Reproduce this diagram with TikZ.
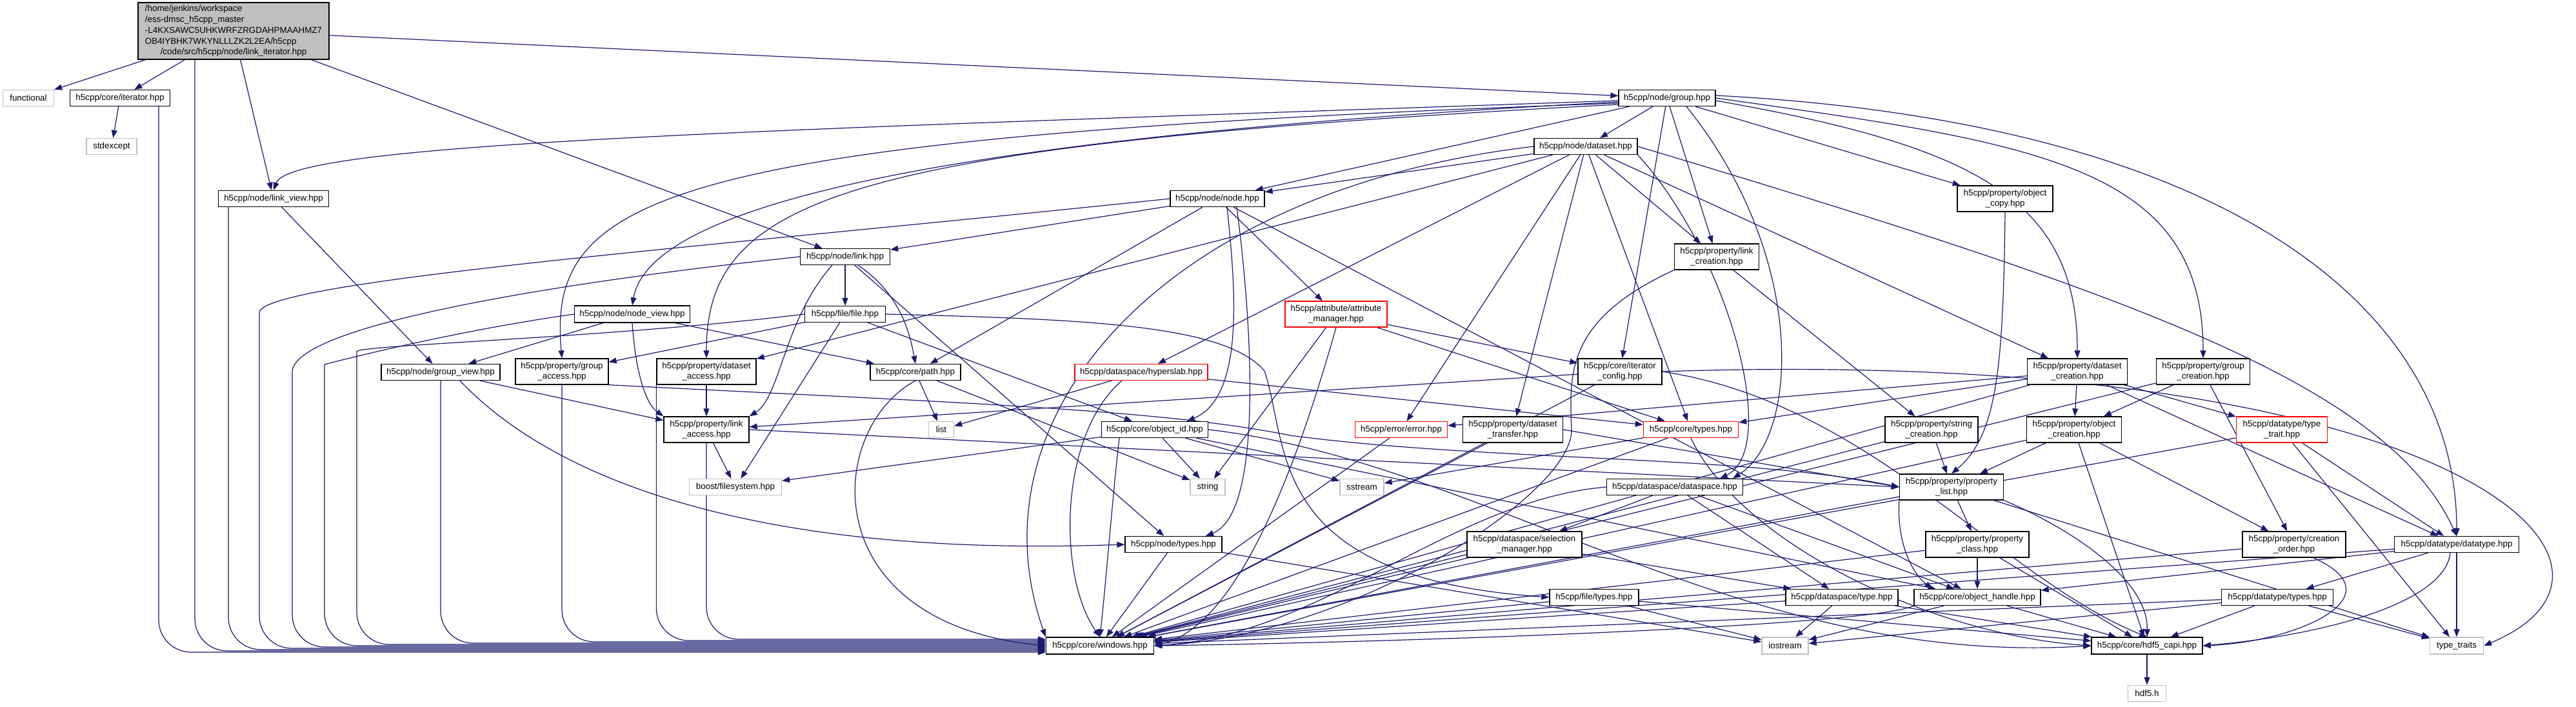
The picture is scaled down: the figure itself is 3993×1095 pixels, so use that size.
\documentclass[tikz,border=0pt]{standalone}
\usepackage{fontspec}
\setmainfont{Liberation Sans}
\usetikzlibrary{arrows.meta}
\pgfdeclarelayer{edgelayer}
\pgfsetlayers{edgelayer,main}
\definecolor{edgec}{HTML}{191970}
\definecolor{grayb}{HTML}{BFBFBF}
\newcommand\dxf{\fontsize{13.4}{16.8}\selectfont}
\newcommand\ee[2]{\draw[e] (#1) -- (#2);}
\begin{document}
\begin{tikzpicture}[x=1pt,y=1pt,
  nb/.style={draw=black, fill=white, line width=1.3pt, inner sep=2pt, align=center, font=\dxf},
  gb/.style={nb, draw=grayb},
  rb/.style={nb, draw=red},
  sz/.style 2 args={minimum width=#1pt, minimum height=#2pt},
  e/.style={draw=edgec, line width=1.2pt, -{Triangle[length=12pt,width=9pt]}}]
\useasboundingbox (0,0) rectangle (3993,1095);
% nodes
\node[nb,fill=grayb,sz={296}{84}] (main) at (362,1047) {\begin{tabular}{@{}l@{}}/home/jenkins/workspace\\/ess-dmsc\_h5cpp\_master\\-L4KXSAWC5UHKWRFZRGDAHPMAAHMZ7\\OB4IYBHK7WKYNLLLZK2L2EA/h5cpp\\\multicolumn{1}{@{}c@{}}{/code/src/h5cpp/node/link\_iterator.hpp}\end{tabular}};
\node[gb,sz={79}{25}] (functional) at (44,943) {functional};
\node[nb,sz={155}{25}] (iter) at (186,943) {h5cpp/core/iterator.hpp};
\node[gb,sz={78}{25}] (stdexcept) at (173,868) {stdexcept};
\node[nb,sz={171}{25}] (linkview) at (424,787) {h5cpp/node/link\_view.hpp};
\node[nb,sz={146}{25}] (node) at (1887,787) {h5cpp/node/node.hpp};
\node[nb,sz={150}{25}] (group) at (2584,943) {h5cpp/node/group.hpp};
\node[nb,sz={160}{25}] (dataset) at (2458,868) {h5cpp/node/dataset.hpp};
\node[nb,sz={148}{40}] (objcopy) at (3108,787) {h5cpp/property/object\\\_copy.hpp};
\node[nb,sz={179}{26}] (nodeview) at (980,608) {h5cpp/node/node\_view.hpp};
\node[nb,sz={184}{25}] (groupview) at (683,518) {h5cpp/node/group\_view.hpp};
\node[nb,sz={144}{40}] (groupaccess) at (871,519) {h5cpp/property/group\\\_access.hpp};
\node[nb,sz={139}{25}] (link) at (1310,697) {h5cpp/node/link.hpp};
\node[nb,sz={125}{25}] (file) at (1310,608) {h5cpp/file/file.hpp};
\node[nb,sz={154}{40}] (datasetaccess) at (1095,519) {h5cpp/property/dataset\\\_access.hpp};
\node[nb,sz={140}{25}] (path) at (1419,518) {h5cpp/core/path.hpp};
\node[rb,sz={206}{25}] (hyperslab) at (1769,518) {h5cpp/dataspace/hyperslab.hpp};
\node[nb,sz={132}{40}] (linkaccess) at (1095,429) {h5cpp/property/link\\\_access.hpp};
\node[gb,sz={39}{25}] (list) at (1459,429) {list};
\node[nb,sz={165}{25}] (objid) at (1790,429) {h5cpp/core/object\_id.hpp};
\node[nb,sz={131}{40}] (linkcreation) at (2661,697) {h5cpp/property/link\\\_creation.hpp};
\node[rb,sz={158}{40}] (attrmgr) at (2071,608) {h5cpp/attribute/attribute\\\_manager.hpp};
\node[nb,sz={130}{40}] (iterconfig) at (2511,519) {h5cpp/core/iterator\\\_config.hpp};
\node[rb,sz={143}{25}] (error) at (2172,429) {h5cpp/error/error.hpp};
\node[nb,sz={155}{40}] (dtransfer) at (2345,429) {h5cpp/property/dataset\\\_transfer.hpp};
\node[rb,sz={147}{25}] (types) at (2621,429) {h5cpp/core/types.hpp};
\node[nb,sz={144}{40}] (stringcreation) at (2994,429) {h5cpp/property/string\\\_creation.hpp};
\node[nb,sz={155}{40}] (dcreation) at (3220,519) {h5cpp/property/dataset\\\_creation.hpp};
\node[nb,sz={145}{40}] (gcreation) at (3415,519) {h5cpp/property/group\\\_creation.hpp};
\node[nb,sz={147}{40}] (ocreation) at (3215,429) {h5cpp/property/object\\\_creation.hpp};
\node[rb,sz={141}{40}] (typetrait) at (3537,429) {h5cpp/datatype/type\\\_trait.hpp};
\node[gb,sz={143}{25}] (filesystem) at (1140,340) {boost/filesystem.hpp};
\node[gb,sz={54}{25}] (string) at (1872,340) {string};
\node[nb,sz={150}{25}] (nodetypes) at (1819,251) {h5cpp/node/types.hpp};
\node[nb,sz={167}{26}] (windows) at (1705,94) {h5cpp/core/windows.hpp};
\node[gb,sz={68}{25}] (sstream) at (2111,340) {sstream};
\node[nb,sz={211}{25}] (dataspace) at (2596,340) {h5cpp/dataspace/dataspace.hpp};
\node[nb,sz={178}{40}] (selmgr) at (2363,251) {h5cpp/dataspace/selection\\\_manager.hpp};
\node[nb,sz={138}{25}] (filetypes) at (2471,169) {h5cpp/file/types.hpp};
\node[nb,sz={174}{25}] (dstype) at (2855,169) {h5cpp/dataspace/type.hpp};
\node[gb,sz={72}{26}] (iostream) at (2767,94) {iostream};
\node[nb,sz={161}{40}] (plist) at (3025,340) {h5cpp/property/property\\\_list.hpp};
\node[nb,sz={160}{40}] (pclass) at (3065,251) {h5cpp/property/property\\\_class.hpp};
\node[nb,sz={196}{25}] (objhandle) at (3065,169) {h5cpp/core/object\_handle.hpp};
\node[nb,sz={160}{40}] (corder) at (3556,251) {h5cpp/property/creation\\\_order.hpp};
\node[nb,sz={193}{25}] (datatype) at (3808,251) {h5cpp/datatype/datatype.hpp};
\node[nb,sz={173}{25}] (dtypes) at (3530,169) {h5cpp/datatype/types.hpp};
\node[nb,sz={172}{26}] (hdf5capi) at (3328,94) {h5cpp/core/hdf5\_capi.hpp};
\node[gb,sz={83}{26}] (typetraits) at (3808,94) {type\_traits};
\node[gb,sz={59}{25}] (hdf5h) at (3328,20) {hdf5.h};
\coordinate (lnA) at (402,560);
\coordinate (lnB) at (453,468);
\coordinate (lnC) at (503,480);
\coordinate (lnD) at (553,500);
\begin{pgfonlayer}{edgelayer}
\fill[white] (0,0) rectangle (3993,1095);
% main
\ee{main}{functional}\ee{main}{iter}\ee{main}{linkview}\ee{main}{link}\ee{main}{group}
\draw[e,rounded corners=50pt] ([xshift=-60pt]main.south) |- ([yshift=-8pt]windows.west);
\ee{iter}{stdexcept}
\draw[e,rounded corners=50pt] ([xshift=60pt]iter.south) |- ([yshift=-10pt]windows.west);
\ee{linkview}{groupview}
\draw[e,rounded corners=50pt] ([xshift=-70pt]linkview.south) |- ([yshift=-6pt]windows.west);
% group
\ee{group}{node}\ee{group}{dataset}\ee{group}{linkcreation}\ee{group}{iterconfig}\ee{group}{objcopy}
\draw[e] ([yshift=-4pt]group.west) .. controls +(182:1300) and +(70:80) .. (linkview.north);
\draw[e] ([yshift=-6pt]group.west) .. controls +(183:1100) and +(80:150) .. (nodeview.north);
\draw[e] ([yshift=-8pt]group.west) .. controls +(182:1500) and +(95:250) .. (groupaccess.north);
\draw[e] ([yshift=-10pt]group.west) .. controls +(183:1200) and +(90:250) .. (datasetaccess.north);
\draw[e] ([yshift=4pt]group.east) .. controls +(-3:800) and +(90:350) .. (datatype.north);
\draw[e] (group.east) .. controls +(-8:500) and +(90:300) .. (gcreation.north);
\draw[e] ([yshift=-4pt]group.east) .. controls +(-10:400) and +(90:250) .. (dcreation.north);
\draw[e] ([xshift=30pt]group.south) .. controls (2800,700) and (2790,420) .. ([xshift=90pt]dataspace.north);
% dataset
\ee{dataset}{node}\ee{dataset}{hyperslab}\ee{dataset}{error}\ee{dataset}{dtransfer}\ee{dataset}{types}
\ee{dataset}{linkcreation}\ee{dataset}{dcreation}\ee{dataset}{datasetaccess}
\draw[e] (dataset.south east) .. controls (2680,700) and (2760,400) .. ([xshift=70pt]dataspace.north);
\draw[e] (dataset.east) .. controls (3300,640) and (3700,500) .. (datatype.north);
\draw[e] (dataset.west) .. controls (1800,800) and (1500,450) .. (windows.north west);
% node
\ee{node}{link}\ee{node}{path}\ee{node}{attrmgr}\ee{node}{objhandle}
\draw[e] ([xshift=15pt]node.south) .. controls (1915,650) and (1930,480) .. ([xshift=50pt]objid.north);
\draw[e] ([xshift=30pt]node.south) .. controls (1940,600) and (1960,300) .. ([xshift=50pt]nodetypes.north);
\draw[e,rounded corners=50pt] (node.west) .. controls +(186:700) and +(90:100) .. (lnA) |- ([yshift=-4pt]windows.west);
% link
\ee{link}{file}\ee{link}{nodetypes}
\draw[e] ([xshift=20pt]link.south) .. controls (1395,640) and (1410,580) .. (path.north);
\draw[e] ([xshift=-20pt]link.south) .. controls (1215,600) and (1210,480) .. (linkaccess.north east);
\draw[e,rounded corners=50pt] (link.west) .. controls +(186:400) and +(90:120) .. (lnB) |- ([yshift=-2pt]windows.west);
% nodeview
\ee{nodeview}{groupview}\ee{nodeview}{path}
\draw[e] (nodeview.south) .. controls (985,520) and (1000,470) .. (linkaccess.north west);
\draw[e,rounded corners=50pt] (nodeview.west) .. controls +(188:200) and +(90:50) .. (lnC) |- (windows.west);
% file
\ee{file}{filesystem}\ee{file}{groupaccess}\ee{file}{objid}
\draw[e] (file.east) .. controls (1700,600) and (1900,590) .. (1960,520) .. controls (2000,400) and (1960,200) .. (filetypes.west);
\draw[e,rounded corners=50pt] (file.west) .. controls +(187:300) and +(90:60) .. (lnD) |- ([yshift=2pt]windows.west);
% groupview, groupaccess, datasetaccess, linkaccess
\ee{groupview}{linkaccess}
\draw[e] ([xshift=30pt]groupview.south) .. controls (850,360) and (1150,230) .. (nodetypes.west);
\draw[e,rounded corners=50pt] (groupview.south) |- ([yshift=4pt]windows.west);
\draw[e] (groupaccess.south east) .. controls (1500,470) and (1800,460) .. (2000,420) .. controls (2300,380) and (2700,390) .. (plist.west);
\draw[e,rounded corners=50pt] (groupaccess.south) |- ([yshift=6pt]windows.west);
\ee{datasetaccess}{linkaccess}
\draw[e,rounded corners=50pt] (datasetaccess.south west) |- ([yshift=8pt]windows.west);
\ee{linkaccess}{filesystem}
\draw[e] (linkaccess.east) -- (plist.west);
\draw[e,rounded corners=50pt] (linkaccess.south) |- ([yshift=10pt]windows.west);
% path, hyperslab, objid
\ee{path}{list}\ee{path}{string}
\draw[e] (path.south) .. controls (1280,430) and (1260,130) .. (windows.west);
\ee{hyperslab}{list}\ee{hyperslab}{types}
\draw[e] ([xshift=-30pt]hyperslab.south) .. controls (1640,420) and (1640,200) .. (windows.north);
\ee{objid}{filesystem}\ee{objid}{string}\ee{objid}{sstream}\ee{objid}{objhandle}
\draw[e] ([xshift=-55pt]objid.south) .. controls (1725,330) and (1715,200) .. (windows.north);
\draw[e] (objid.east) .. controls (2300,380) and (2700,60) .. (hdf5capi.west);
% attribute manager, link creation, iterator config
\ee{attrmgr}{iterconfig}\ee{attrmgr}{types}\ee{attrmgr}{string}
\draw[e] (attrmgr.south) .. controls (1990,300) and (1900,120) .. (windows.east);
\ee{linkcreation}{stringcreation}
\draw[e] (linkcreation.south west) .. controls (2430,600) and (2432,520) .. (2436,430) .. controls (2440,330) and (2100,110) .. (windows.east);
\ee{iterconfig}{linkaccess}\ee{iterconfig}{windows}
\draw[e] (iterconfig.east) .. controls (2900,470) and (3100,200) .. (hdf5capi.north);
\draw[e] (iterconfig.east) .. controls (3800,560) and (4150,220) .. (typetraits.east);
% error, transfer, types
\ee{error}{windows}
\draw[e] (dtransfer.east) -- (plist.west);
\ee{dtransfer}{windows}
\ee{types}{windows}\ee{types}{sstream}
\draw[e] (types.south) .. controls (2700,250) and (3000,110) .. (hdf5capi.west);
% creation lists
\ee{stringcreation}{plist}\ee{stringcreation}{windows}
\ee{dcreation}{ocreation}\ee{dcreation}{typetrait}\ee{dcreation}{error}\ee{dcreation}{types}\ee{dcreation}{windows}\ee{dcreation}{datatype}
\ee{gcreation}{ocreation}\ee{gcreation}{corder}\ee{gcreation}{windows}
\ee{ocreation}{plist}\ee{ocreation}{corder}\ee{ocreation}{windows}\ee{ocreation}{hdf5capi}
\ee{typetrait}{datatype}\ee{typetrait}{typetraits}\ee{typetrait}{windows}
\ee{corder}{windows}
\draw[e] ([xshift=30pt]corder.south) .. controls (3720,170) and (3560,100) .. (hdf5capi.east);
\draw[e] (objcopy.south) .. controls (3105,520) and (3095,420) .. (plist.north);
% datatype
\ee{datatype}{objhandle}\ee{datatype}{dtypes}\ee{datatype}{typetraits}\ee{datatype}{windows}
\draw[e] ([xshift=-10pt]datatype.south) .. controls (3790,160) and (3600,110) .. (hdf5capi.east);
\ee{dtypes}{hdf5capi}\ee{dtypes}{typetraits}\ee{dtypes}{windows}\ee{dtypes}{iostream}
% dataspace
\ee{dataspace}{selmgr}\ee{dataspace}{dstype}\ee{dataspace}{objhandle}
\draw[e] (dataspace.west) .. controls (2250,320) and (2050,110) .. (windows.east);
\ee{selmgr}{dstype}\ee{selmgr}{windows}
\ee{filetypes}{iostream}\ee{filetypes}{windows}\ee{filetypes}{hdf5capi}
\ee{dstype}{iostream}\ee{dstype}{windows}\ee{dstype}{hdf5capi}
\ee{nodetypes}{windows}\ee{nodetypes}{iostream}
% property list / class / handle
\ee{plist}{pclass}\ee{plist}{windows}\ee{plist}{typetraits}
\draw[e] (plist.south west) .. controls (2940,260) and (2960,210) .. ([xshift=-70pt]objhandle.north);
\draw[e] (plist.south east) .. controls (3200,280) and (3330,200) .. (hdf5capi.north);
\ee{pclass}{objhandle}\ee{pclass}{hdf5capi}\ee{pclass}{windows}
\ee{objhandle}{hdf5capi}\ee{objhandle}{iostream}
\draw[e] (objhandle.south west) .. controls (2900,125) and (2200,100) .. (windows.east);
\ee{hdf5capi}{hdf5h}
\end{pgfonlayer}
\end{tikzpicture}
\end{document}
